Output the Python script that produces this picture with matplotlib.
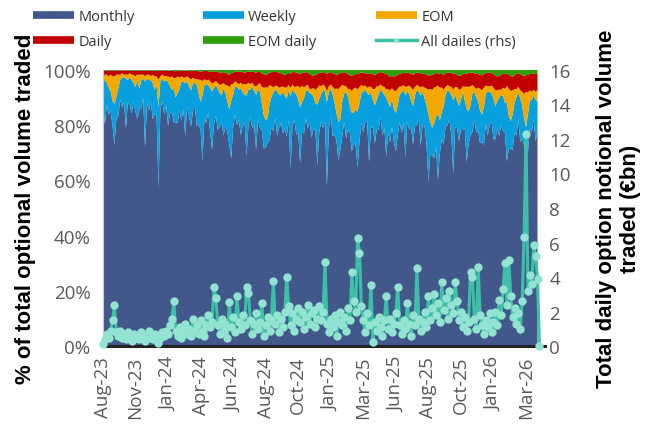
import matplotlib.pyplot as plt
from matplotlib.lines import Line2D

plt.rcParams['font.family'] = ['Open Sans', 'DejaVu Sans']

# share of total option volume by expiry type (%), one value every ~3 trading days
weekly = [9, 16, 8, 10, 7, 9, 15, 8, 10, 7, 11, 9, 18, 8, 10, 12, 7, 9, 14,
          8, 10, 7, 24, 9, 11, 8, 13, 9, 11, 29, 10, 8, 12, 9, 16, 10, 8, 12,
          9, 11, 8, 14, 10, 19, 9, 11, 13, 10, 8, 15, 11, 10, 24, 12, 14, 10, 16,
          21, 13, 11, 15, 12, 10, 17, 12, 11, 13, 21, 12, 10, 14, 11, 17, 12, 10, 22,
          13, 10, 15, 12, 20, 11, 13, 10, 12, 10, 9, 13, 11, 14, 10, 16, 12, 10, 15,
          12, 14, 11, 26, 13, 10, 15, 12, 20, 11, 13, 10, 14, 11, 16, 12, 10, 22, 12,
          10, 14, 11, 30, 13, 10, 15, 12, 10, 14, 11, 13, 10, 17, 12, 10, 14, 11, 13,
          20, 14, 11, 15, 12, 10, 24, 13, 10, 14, 11, 13, 10, 16, 12, 21, 11, 13, 10,
          12, 14, 11, 10, 15, 12, 22, 11, 13, 10, 14, 11, 13, 10, 18, 12, 10, 14, 24,
          12, 10, 13, 11, 24, 12, 10, 14, 11, 13, 10, 15, 26, 12, 10, 13, 11, 14, 10,
          19, 12, 11, 14, 10, 13, 11, 12, 10, 14, 11, 16, 12, 10, 15, 12, 10, 14, 11,
          13, 11, 21, 12, 10, 13, 11, 14, 10, 16, 12, 10, 11, 14, 10, 12, 9, 15, 11]
eom = [2, 2, 3, 4, 6, 9, 10, 8, 5, 2, 1.5, 1, 1.5, 2, 1.5, 2, 3, 4, 2,
       5, 2, 1.5, 2, 1.5, 2, 1.5, 3, 5, 3, 10, 2, 1.5, 2, 1.5, 2, 3, 5, 4,
       7, 6, 4, 2, 1.5, 2, 2, 3, 4, 2, 1.5, 2, 5, 8, 5, 2, 1.5, 2, 2.5,
       3, 2, 1.5, 2, 3, 4, 2, 3, 6, 8, 6, 4, 2, 1.5, 2, 2, 3, 4, 4,
       2.5, 2, 1.5, 2, 3, 2, 3, 6, 10, 12, 11, 7, 4, 2, 1.5, 2, 2.5, 3, 2,
       3, 4, 2, 3, 2, 2, 3, 5, 7, 6, 4, 2, 2, 1.5, 2, 3, 5, 6, 5,
       3, 2, 2, 4, 2, 1.5, 3, 5, 9, 12, 12, 6, 3, 2, 3, 6, 8, 9, 8,
       8, 6, 3, 2, 1.5, 2, 3, 2, 4, 6, 5, 3, 2, 2, 3, 3, 5, 6, 4,
       7, 8, 6, 3, 2, 2, 3, 2, 3, 5, 6, 3, 2, 2, 3, 2, 4, 6, 9,
       12, 14, 13, 11, 10, 12, 9, 6, 3, 2, 2, 3, 4, 3, 5, 6, 4, 2, 5,
       8, 9, 7, 3, 2, 3, 5, 8, 9, 7, 3, 2, 2, 3, 4, 6, 4, 3, 2,
       3, 5, 6, 10, 11, 9, 5, 3, 2, 3, 5, 9, 13, 8, 4, 3, 2, 3, 4]
daily = [1.5, 1.5, 1.5, 2, 1.5, 2, 2, 1.5, 1.5, 1.5, 1, 1.5, 1.5, 1.5, 1, 1.5, 1.5, 2, 1.5,
         1.5, 1.5, 1.5, 2, 1.5, 1.5, 2, 1.5, 2, 2, 3, 2, 1.5, 2, 2, 2, 2.5, 2, 2.5,
         2.5, 2, 2.5, 2, 2.5, 2.5, 2, 2.5, 3, 2.5, 3, 3, 3, 3, 3.5, 3, 3.5, 3, 3.5,
         4, 4, 3.5, 4, 4.5, 4, 4, 4.5, 4, 4.5, 4, 4, 3.5, 4, 4.5, 4, 4.5, 4, 4.5,
         4, 4.5, 4, 5, 5, 4.5, 4, 5, 5, 4.5, 5, 4.5, 5, 5.5, 5, 5, 5.5, 5, 4.5,
         4.5, 5, 4.5, 5, 4.5, 5.5, 5, 4.5, 5, 4.5, 5.5, 5, 4.5, 5.5, 5, 4.5, 5.5, 5, 4.5,
         5, 4.5, 5, 6, 5, 4.5, 5, 5.5, 5, 5.5, 5, 4.5, 5, 5, 5.5, 5, 5.5, 5, 5,
         5.5, 5, 4.5, 5, 4.5, 5, 4.5, 5, 5.5, 5, 4.5, 5, 4.5, 5, 5, 5.5, 5, 5, 4.5,
         5, 5.5, 5, 4.5, 5, 4.5, 5, 5, 4.5, 5, 5.5, 5, 4.5, 5, 5, 4.5, 5, 5, 5,
         5, 5.5, 5, 5, 4.5, 5, 5, 5.5, 5, 4.5, 5, 5, 5.5, 5, 4.5, 5, 5, 4.5, 5,
         4.5, 5, 5, 4.5, 5, 5.5, 5, 5, 5.5, 5, 4.5, 5, 5, 4.5, 5, 5.5, 5, 5, 5.5,
         5, 5.5, 4.5, 5, 5.5, 5, 5, 5.5, 5, 6, 6, 6.5, 6, 6.5, 6, 6.5, 6, 6.5, 6]
eom_daily = [0.3, 0.2, 0.2, 0.3, 0.2, 0.3, 0.3, 0.2, 0.2, 0.2, 0.2, 0.2, 0.2, 0.2, 0.2, 0.2, 0.3, 0.3, 0.2,
             0.3, 0.2, 0.2, 0.2, 0.2, 0.2, 0.2, 0.3, 0.3, 0.3, 0.5, 0.3, 0.2, 0.2, 0.3, 0.3, 0.3, 0.3, 0.4,
             0.5, 0.4, 0.3, 0.3, 0.3, 0.3, 0.3, 0.4, 0.5, 0.3, 0.3, 0.4, 0.5, 0.6, 0.5, 0.4, 0.4, 0.5, 0.6,
             0.8, 0.6, 0.5, 0.7, 1.0, 1.2, 0.8, 1.0, 1.5, 1.8, 1.2, 1.0, 0.6, 0.6, 0.7, 0.6, 0.8, 1.0, 0.8,
             0.6, 0.7, 0.6, 0.8, 1.0, 0.7, 0.8, 1.2, 1.5, 1.8, 1.5, 1.0, 0.8, 0.8, 0.7, 0.8, 1.0, 1.2, 1.5,
             2.0, 1.5, 1.0, 1.5, 0.8, 0.8, 1.0, 1.5, 1.5, 1.2, 1.0, 0.8, 1.0, 1.5, 2.0, 2.2, 1.8, 1.5, 1.2,
             1.0, 0.8, 1.0, 1.5, 1.0, 0.8, 1.2, 1.5, 1.8, 1.5, 1.2, 1.0, 0.8, 1.0, 1.5, 2.0, 2.2, 1.8, 1.5,
             1.5, 1.2, 1.0, 1.0, 1.2, 1.5, 1.5, 1.2, 1.5, 2.0, 1.5, 1.0, 0.8, 1.0, 1.2, 1.5, 2.0, 2.5, 2.2,
             2.5, 2.2, 1.8, 1.5, 1.2, 1.0, 1.2, 1.0, 1.2, 1.5, 1.8, 1.2, 1.0, 1.0, 1.2, 1.5, 1.5, 1.8, 2.0,
             2.0, 1.8, 1.5, 1.2, 1.2, 1.5, 1.5, 1.8, 1.2, 1.0, 1.0, 1.2, 1.5, 1.2, 1.8, 2.2, 2.0, 1.5, 1.2,
             1.5, 1.2, 1.0, 1.0, 1.2, 1.5, 1.5, 1.8, 2.0, 1.5, 1.2, 1.0, 1.0, 1.2, 1.5, 2.0, 2.5, 2.2, 1.8,
             1.5, 1.5, 1.2, 1.8, 2.2, 2.5, 2.0, 1.5, 1.2, 1.5, 2.0, 2.2, 2.0, 1.8, 1.5, 1.5, 1.2, 1.5, 1.5]
monthly = [87, 80, 87, 84, 85, 80, 73, 82, 83, 89, 86, 88, 79, 88, 87, 84, 88, 85, 82,
           85, 86, 90, 72, 88, 85, 88, 82, 84, 84, 57, 86, 89, 84, 87, 80, 84, 85, 81,
           81, 81, 85, 82, 86, 76, 87, 83, 80, 85, 87, 80, 80, 78, 67, 83, 81, 85, 77,
           71, 80, 83, 78, 80, 81, 76, 80, 78, 73, 68, 79, 84, 80, 82, 76, 80, 81, 69,
           80, 83, 79, 80, 71, 82, 79, 78, 72, 72, 74, 75, 79, 78, 83, 76, 79, 81, 77,
           80, 77, 83, 64, 81, 83, 78, 79, 66, 79, 78, 84, 80, 82, 77, 80, 79, 65, 79,
           82, 80, 82, 57, 80, 84, 77, 77, 75, 68, 72, 77, 82, 76, 79, 78, 71, 74, 74,
           64, 75, 82, 78, 82, 82, 66, 80, 80, 74, 79, 79, 84, 77, 80, 68, 78, 74, 80,
           74, 71, 77, 82, 78, 82, 68, 82, 79, 80, 74, 81, 81, 83, 72, 81, 81, 74, 59,
           70, 70, 69, 73, 60, 71, 76, 74, 81, 81, 83, 77, 62, 80, 80, 75, 79, 79, 80,
           66, 74, 77, 78, 83, 78, 79, 74, 75, 74, 81, 77, 81, 82, 76, 76, 80, 77, 81,
           79, 78, 66, 72, 72, 72, 78, 77, 83, 75, 76, 73, 69, 71, 80, 78, 83, 75, 79]

# all daily-expiry option notional traded, EUR bn (rhs)
all_dailies = [0.1, 0.4, 0.7, 0.5, 0.9, 1.5, 2.4, 0.8, 0.6, 0.9, 0.5, 0.7, 0.4, 0.8, 0.6, 0.3, 0.7, 0.5, 0.6,
               0.4, 0.8, 0.5, 0.3, 0.6, 0.9, 0.5, 0.4, 0.7, 0.6, 0.2, 0.5, 0.8, 0.6, 0.9, 0.7, 1.2, 1.6, 2.6,
               0.9, 0.6, 1.1, 0.5, 0.8, 1.3, 0.7, 1.0, 0.6, 1.6, 0.9, 1.2, 0.7, 1.5, 0.9, 0.6, 1.2, 1.8, 1.1,
               1.4, 3.4, 2.8, 1.2, 0.7, 1.6, 0.9, 1.3, 0.5, 2.55, 1.1, 1.7, 0.8, 2.9, 1.4, 1.0, 1.8, 1.2, 3.4,
               3.1, 1.5, 0.7, 1.3, 1.9, 1.0, 1.4, 2.5, 0.6, 1.2, 1.7, 0.9, 1.5, 3.8, 1.3, 1.8, 0.8, 1.6, 1.1,
               2.0, 4.0, 2.3, 1.2, 1.9, 0.9, 1.6, 2.2, 1.4, 2.0, 1.0, 1.7, 2.4, 1.3, 1.9, 2.1, 1.1, 1.6, 2.3,
               1.5, 2.0, 4.9, 1.3, 0.8, 1.6, 1.1, 1.8, 0.6, 1.4, 2.0, 1.2, 1.7, 0.9, 2.2, 1.5, 4.3, 2.6, 2.0,
               6.25, 5.4, 2.3, 1.5, 0.8, 1.9, 1.2, 3.55, 0.25, 1.4, 0.9, 1.7, 1.1, 0.6, 1.5, 2.9, 1.0, 1.6, 0.8,
               1.3, 1.9, 3.4, 1.2, 0.7, 1.5, 1.0, 2.5, 1.3, 0.6, 1.8, 1.2, 4.5, 1.6, 0.9, 1.4, 2.0, 1.1, 2.9,
               1.5, 2.2, 3.0, 1.8, 2.5, 1.4, 3.7, 2.1, 2.8, 1.6, 3.2, 2.4, 1.9, 3.7, 2.6, 1.5, 2.0, 1.1, 1.7,
               0.9, 1.4, 4.3, 4.0, 1.6, 1.0, 4.6, 1.8, 1.2, 0.7, 1.5, 1.1, 1.9, 0.8, 1.4, 2.0, 1.2, 2.7, 1.8,
               3.3, 4.8, 2.4, 5.0, 2.9, 1.7, 2.2, 1.3, 1.9, 1.0, 2.6, 6.3, 12.3, 3.2, 4.1, 3.6, 5.85, 5.2, 3.9,
               0.0]

tick_labels = ['Aug-23', 'Nov-23', 'Jan-24', 'Apr-24', 'Jun-24', 'Aug-24', 'Oct-24',
               'Jan-25', 'Mar-25', 'Jun-25', 'Aug-25', 'Oct-25', 'Jan-26', 'Mar-26']

colors = ['#42588B', '#079FDD', '#F3A800', '#C10000', '#2E9E0C']
teal = '#3DC1A6'
mint = '#93E3D2'
grey = '#595959'
label_font = ['Liberation Sans', 'DejaVu Sans']

# 100% stacking
series = [monthly, weekly, eom, daily, eom_daily]
totals = [sum(v) for v in zip(*series)]
shares = [[v / t * 100 for v, t in zip(s, totals)] for s in series]
x = list(range(len(monthly)))

fig = plt.figure(figsize=(6.6, 4.27), dpi=100)
ax = fig.add_axes([0.156, 0.187, 0.670, 0.647])
ax.stackplot(x, *shares, colors=colors, linewidth=0)
ax.set_xlim(0, 231)
ax.set_ylim(0, 100)
ax.set_yticks(range(0, 101, 20))
ax.set_yticklabels([f'{v}%' for v in range(0, 101, 20)])
ax.set_xticks(range(0, 17 * len(tick_labels), 17))
ax.set_xticklabels(tick_labels, rotation=90)
ax.tick_params(axis='y', length=0, labelsize=13.5, labelcolor=grey, pad=9)
ax.tick_params(axis='x', length=0, labelsize=13.5, labelcolor=grey, pad=7)
for s in ['top', 'right']:
    ax.spines[s].set_visible(False)
ax.spines['left'].set_color('#C9CCD6')
ax.spines['bottom'].set_color('#222222')
ax.spines['bottom'].set_linewidth(2.2)
ax.spines['bottom'].set_zorder(5)
ax.set_ylabel('% of total optional volume traded', fontsize=16, fontweight='bold',
              family=label_font, labelpad=5)

ax2 = ax.twinx()
ax2.plot(range(len(all_dailies)), all_dailies, color=teal, lw=2.2, marker='o', ms=6,
         mfc=mint, mec='none', clip_on=False, zorder=3)
ax2.set_ylim(0, 16)
ax2.set_yticks(range(0, 17, 2))
ax2.tick_params(length=0, labelsize=13.5, labelcolor=grey, pad=3)
for s in ax2.spines.values():
    s.set_visible(False)
ax2.set_ylabel('Total daily option notional volume\ntraded (€bn)', fontsize=16,
               fontweight='bold', family=label_font, labelpad=18)

# legend: three columns of two entries
swatch = dict(lw=5.5, solid_capstyle='butt')
columns = [
    ([Line2D([], [], color=colors[0], **swatch), Line2D([], [], color=colors[3], **swatch)],
     ['Monthly', 'Daily'], 33),
    ([Line2D([], [], color=colors[1], **swatch), Line2D([], [], color=colors[4], **swatch)],
     ['Weekly', 'EOM daily'], 203),
    ([Line2D([], [], color=colors[2], **swatch),
      Line2D([], [], color=teal, lw=2.5, marker='o', ms=3.5, mfc=mint, mec='none')],
     ['EOM', 'All dailes (rhs)'], 376),
]
for hs, ls, left in columns:
    fig.legend(hs, ls, loc='upper left', bbox_to_anchor=(left / 660, 0.976),
               frameon=False, fontsize=10.5, handlelength=2.8, handletextpad=0.3,
               labelspacing=0.68, borderpad=0, borderaxespad=0, numpoints=1,
               labelcolor='#333333')

fig.savefig('out.png', dpi=100)
